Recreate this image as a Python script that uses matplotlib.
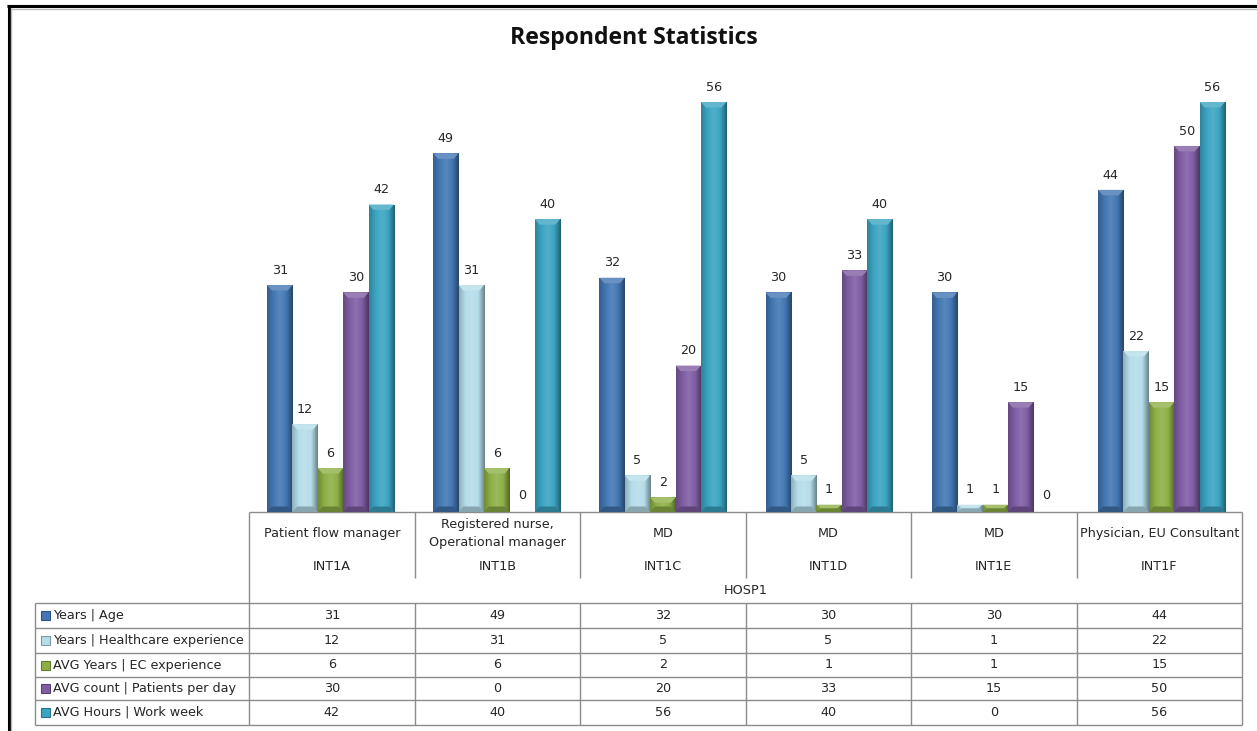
import matplotlib
matplotlib.use("Agg")
import matplotlib.pyplot as plt
import numpy as np
from matplotlib.colors import LinearSegmentedColormap, to_rgb
from matplotlib.patches import Polygon, Rectangle

plt.rcParams["font.family"] = ["DejaVu Sans"]

groups = ["INT1A", "INT1B", "INT1C", "INT1D", "INT1E", "INT1F"]
roles = ["Patient flow manager", "Registered nurse,\nOperational manager", "MD", "MD", "MD",
         "Physician, EU Consultant"]
hospital = "HOSP1"
series_names = ["Years | Age", "Years | Healthcare experience", "AVG Years | EC experience",
                "AVG count | Patients per day", "AVG Hours | Work week"]
age = [31, 49, 32, 30, 30, 44]
healthcare = [12, 31, 5, 5, 1, 22]
ec_years = [6, 6, 2, 1, 1, 15]
patients = [30, 0, 20, 33, 15, 50]
hours = [42, 40, 56, 40, 0, 56]
series = [age, healthcare, ec_years, patients, hours]
colors = ["#4377B3", "#B5DDEA", "#8DB046", "#7F5DA3", "#3BA4C2"]

W, H = 1257, 731
TEXT = "#262626"
GRID = "#8c8c8c"
FS = 9.2

fig = plt.figure(figsize=(W / 100, H / 100), dpi=100, facecolor="white")

# bars live in their own axes, table and frame go in a pixel overlay
ax = fig.add_axes([247.4 / W, (H - 512) / H, 997.2 / W, 410 / H])
ax.axis("off")
bar_w = 0.1528
bevel_x = bar_w * 0.19
bevel_y = 0.75


def shade(c, f):
    c = np.array(to_rgb(c))
    return tuple(c * f) if f <= 1 else tuple(c + (1 - c) * (f - 1))


for j, (vals, c) in enumerate(zip(series, colors)):
    cmap = LinearSegmentedColormap.from_list("b", [shade(c, 0.8), c, shade(c, 1.12), c, shade(c, 0.6)])
    for i, v in enumerate(vals):
        x0 = i + (j - 2.5) * bar_w
        x1 = x0 + bar_w
        b = ax.bar(x0, v, bar_w, align="edge", color=c, linewidth=0)[0]
        if v > 0:
            im = ax.imshow(np.linspace(0, 1, 32).reshape(1, -1), cmap=cmap, aspect="auto",
                           extent=(x0, x1, 0, v), zorder=2)
            im.set_clip_path(b)
            by = min(bevel_y, v / 2)
            ax.add_patch(Polygon([(x0, v), (x1, v), (x1 - bevel_x, v - by), (x0 + bevel_x, v - by)],
                                 facecolor=shade(c, 1.2), linewidth=0, zorder=3))
            ax.add_patch(Polygon([(x0, 0), (x1, 0), (x1 - bevel_x, by), (x0 + bevel_x, by)],
                                 facecolor=shade(c, 0.75), linewidth=0, zorder=3))
        ax.annotate(str(v), (x0 + bar_w / 2, v), xytext=(0, 6 if v > 0 else 7), textcoords="offset points",
                    ha="center", va="bottom", fontsize=FS, color=TEXT, annotation_clip=False, zorder=5)
ax.set_xlim(-0.5, 5.5)
ax.set_ylim(0, 56)

ov = fig.add_axes([0, 0, 1, 1], zorder=-1)
ov.set_xlim(0, W)
ov.set_ylim(H, 0)
ov.axis("off")

col_x = np.linspace(249, 1242, len(groups) + 1)
row_y = [603, 628, 653, 677, 700, 725]


def line(xs, ys, color=GRID, lw=1.0):
    ov.plot(xs, ys, color=color, lw=lw, solid_capstyle="butt")


# category header
line([249, 1242], [512, 512])
line([249, 249], [512, 725])
line([1242, 1242], [512, 725])
for x in col_x[1:-1]:
    line([x, x], [512, 578])
    line([x, x], [603, 725])
for y in row_y:
    line([35, 1242], [y, y])
line([35, 35], [603, 725])

for i, (g, r) in enumerate(zip(groups, roles)):
    cx = (col_x[i] + col_x[i + 1]) / 2
    ov.text(cx, 533.5, r, ha="center", va="center", fontsize=FS, color=TEXT, linespacing=1.5)
    ov.text(cx, 567, g, ha="center", va="center", fontsize=FS, color=TEXT)
ov.text((col_x[0] + col_x[-1]) / 2, 591, hospital, ha="center", va="center", fontsize=FS, color=TEXT)

# data table rows with legend keys
for k, (name, vals, c) in enumerate(zip(series_names, series, colors)):
    ym = (row_y[k] + row_y[k + 1]) / 2
    ov.add_patch(Rectangle((41, ym - 4.5), 9, 9, facecolor=c, edgecolor=shade(c, 0.7), lw=0.8))
    ov.text(53, ym, name, ha="left", va="center", fontsize=FS, color=TEXT)
    for i, v in enumerate(vals):
        ov.text((col_x[i] + col_x[i + 1]) / 2, ym, str(v), ha="center", va="center", fontsize=FS, color=TEXT)

# screenshot frame
line([7.3, W], [4.6, 4.6], color="#9a9a9a", lw=0.8)
line([7.3, W], [6.2, 6.2], color="black", lw=2.2)
line([10, W], [8.5, 8.5], color="#b8b8b8", lw=1.0)
line([8.5, 8.5], [5, H], color="black", lw=2.2)
line([10.5, 10.5], [8, H], color="#b8b8b8", lw=1.0)

ov.text(634, 38, "Respondent Statistics", ha="center", va="center", fontsize=16.6, fontweight="bold",
        family="Open Sans", color="#111111")

fig.savefig("out.png", dpi=100)
